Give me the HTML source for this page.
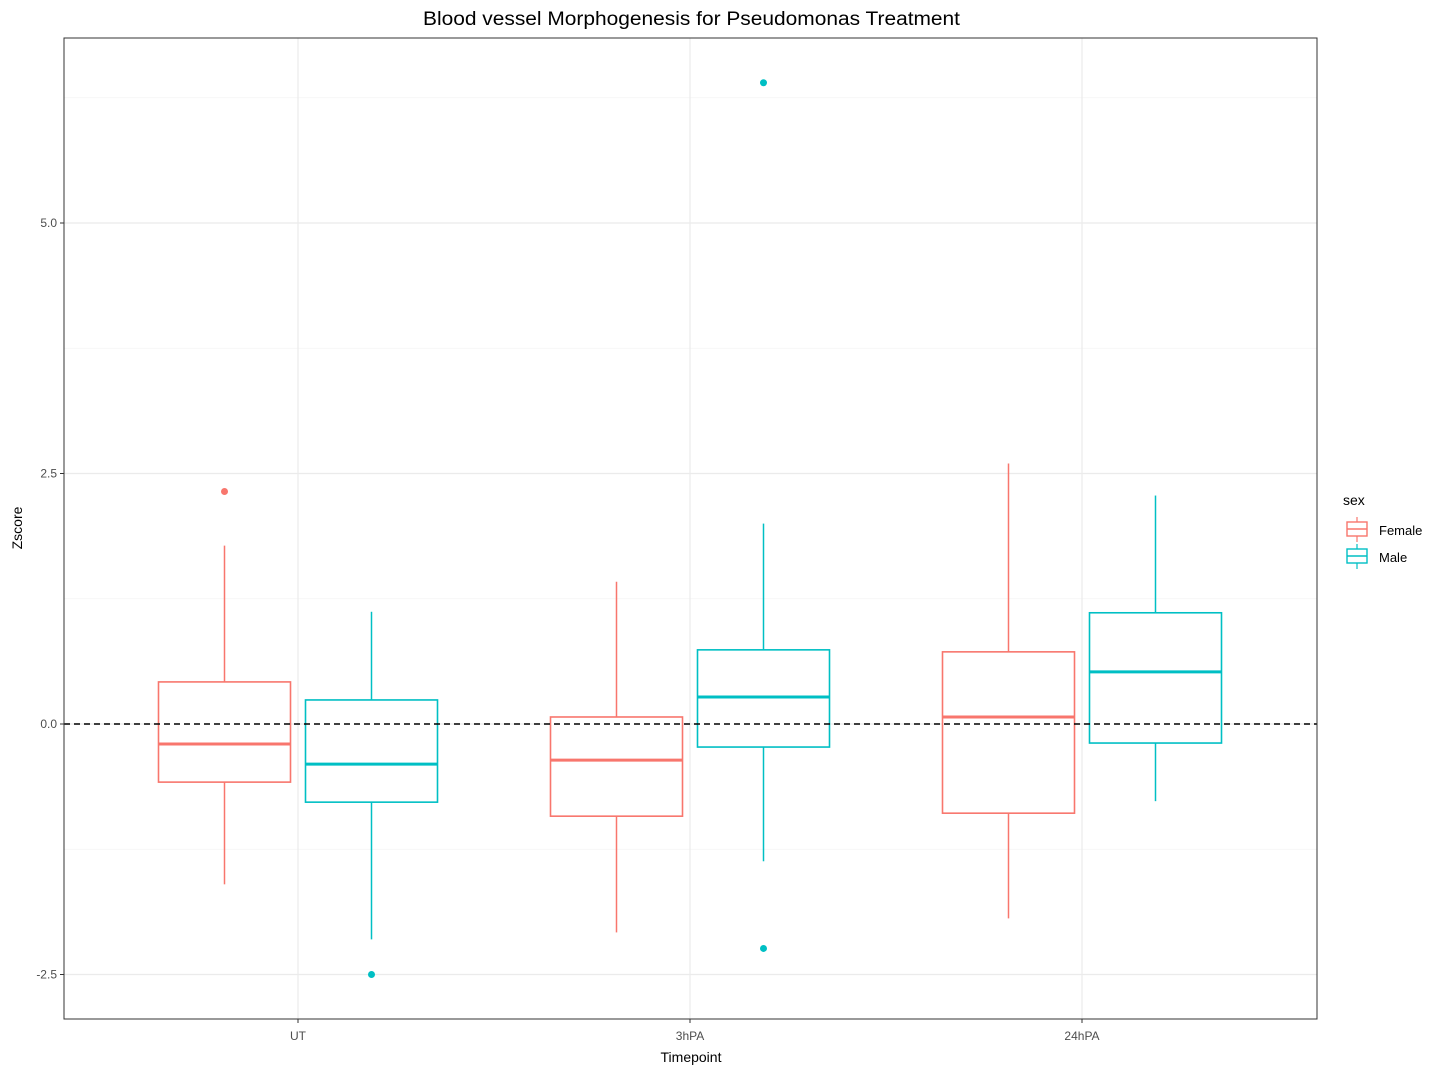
<!DOCTYPE html>
<html><head><meta charset="utf-8">
<style>
html,body{margin:0;padding:0;background:#fff;}
svg text{font-family:"Liberation Sans",Arial,sans-serif;}
</style></head>
<body>
<svg id="chart" width="1440" height="1074" xmlns="http://www.w3.org/2000/svg">
<rect width="1440" height="1074" fill="#fff"/>
<text x="423" y="25" font-size="19" textLength="537" lengthAdjust="spacingAndGlyphs" fill="#000">Blood vessel Morphogenesis for Pseudomonas Treatment</text>
<g id="grid"></g>
<g id="marks"></g>
<rect x="64" y="38" width="1253" height="981" fill="none" stroke="#333" stroke-width="1"/>
<g id="axes"></g>
<text x="691" y="1062" text-anchor="middle" font-size="14" fill="#000">Timepoint</text>
<text transform="translate(22,528) rotate(-90)" text-anchor="middle" font-size="14" fill="#000">Zscore</text>
<g>
<text x="1343" y="505" font-size="14" fill="#000">sex</text>
<g>
<line x1="1357" y1="517" x2="1357" y2="542" stroke="#F8766D" stroke-width="1.2"/>
<rect x="1347" y="522" width="20" height="14" fill="#fff" stroke="#F8766D" stroke-width="1.4"/>
<line x1="1347" y1="529" x2="1367" y2="529" stroke="#F8766D" stroke-width="1.4"/>
<text x="1379" y="535" font-size="13" fill="#000">Female</text></g>
<g>
<line x1="1357" y1="544" x2="1357" y2="569" stroke="#00BFC4" stroke-width="1.2"/>
<rect x="1347" y="549" width="20" height="14" fill="#fff" stroke="#00BFC4" stroke-width="1.4"/>
<line x1="1347" y1="556" x2="1367" y2="556" stroke="#00BFC4" stroke-width="1.4"/>
<text x="1379" y="562" font-size="13" fill="#000">Male</text></g>
</g>
</svg>
<script>
const categories = ["UT","3hPA","24hPA"];
const groups = ["Female","Male"];
const yTicks = [-2.5,0,2.5,5];
const yTickLabels = ["-2.5","0.0","2.5","5.0"];
const femaleLow = [-1.6,-2.08,-1.94];
const femaleQ1 = [-0.58,-0.92,-0.89];
const femaleMed = [-0.2,-0.36,0.07];
const femaleQ3 = [0.42,0.07,0.72];
const femaleHigh = [1.78,1.42,2.6];
const maleLow = [-2.15,-1.37,-0.77];
const maleQ1 = [-0.78,-0.23,-0.19];
const maleMed = [-0.4,0.27,0.52];
const maleQ3 = [0.24,0.74,1.11];
const maleHigh = [1.12,2.0,2.28];
const femaleOutliers = [[0,2.32]];
const maleOutliers = [[0,-2.5],[1,6.4],[1,-2.24]];

const NS="http://www.w3.org/2000/svg";
function y(v){return 724-100.2*v;}
function x(i){return 298+392*i;}
function mk(tag,attrs,parent){const e=document.createElementNS(NS,tag);for(const k in attrs)e.setAttribute(k,attrs[k]);parent.appendChild(e);return e;}
const grid=document.getElementById('grid'),marks=document.getElementById('marks'),axes=document.getElementById('axes');
for(let v=-2.5;v<=6.25;v+=1.25){
  const major=Math.abs(v/2.5-Math.round(v/2.5))<1e-6;
  const l=mk('line',{x1:64,x2:1317,y1:y(v),y2:y(v),stroke:major?'#ebebeb':'#f3f3f3','stroke-width':major?1.2:0.8},grid);
  
  
}
categories.forEach((c,i)=>{
  const l=mk('line',{x1:x(i),x2:x(i),y1:38,y2:1019,stroke:'#ebebeb','stroke-width':1.2},grid);
  
  
  const t=mk('text',{x:x(i),y:1040,'text-anchor':'middle','font-size':12,fill:'#4d4d4d'},axes);
  t.textContent=c;
  
  
  mk('line',{x1:x(i),x2:x(i),y1:1019,y2:1023,stroke:'#333'},axes);
});
yTicks.forEach((v,i)=>{
  const t=mk('text',{x:57,y:y(v)+4,'text-anchor':'end','font-size':12,fill:'#4d4d4d'},axes);
  t.textContent=yTickLabels[i];
  
  
  mk('line',{x1:60,x2:64,y1:y(v),y2:y(v),stroke:'#333'},axes);
});
function drawBox(i,off,color,lo,q1,md,q3,hi,name){
  const cx=x(i)+off,hw=66;
  const g=mk('g',{},marks);
  
  
  mk('line',{x1:cx,x2:cx,y1:y(hi),y2:y(q3),stroke:color,'stroke-width':1.5},g);
  mk('line',{x1:cx,x2:cx,y1:y(q1),y2:y(lo),stroke:color,'stroke-width':1.5},g);
  mk('rect',{x:cx-hw,y:y(q3),width:2*hw,height:y(q1)-y(q3),fill:'#fff',stroke:color,'stroke-width':1.6},g);
  mk('line',{x1:cx-hw,x2:cx+hw,y1:y(md),y2:y(md),stroke:color,'stroke-width':3},g);
}
categories.forEach((c,i)=>{
  drawBox(i,-73.5,'#F8766D',femaleLow[i],femaleQ1[i],femaleMed[i],femaleQ3[i],femaleHigh[i],'box-female-'+c);
  drawBox(i,73.5,'#00BFC4',maleLow[i],maleQ1[i],maleMed[i],maleQ3[i],maleHigh[i],'box-male-'+c);
});
femaleOutliers.forEach(o=>{
  const p=mk('circle',{cx:x(o[0])-73.5,cy:y(o[1]),r:3.5,fill:'#F8766D'},marks);
  
  
});
maleOutliers.forEach(o=>{
  const p=mk('circle',{cx:x(o[0])+73.5,cy:y(o[1]),r:3.5,fill:'#00BFC4'},marks);
  
  
});
const ref=mk('line',{x1:64,x2:1317,y1:y(0),y2:y(0),stroke:'#000','stroke-width':1.6,'stroke-dasharray':'6,4'},marks);


</script>
</body></html>
